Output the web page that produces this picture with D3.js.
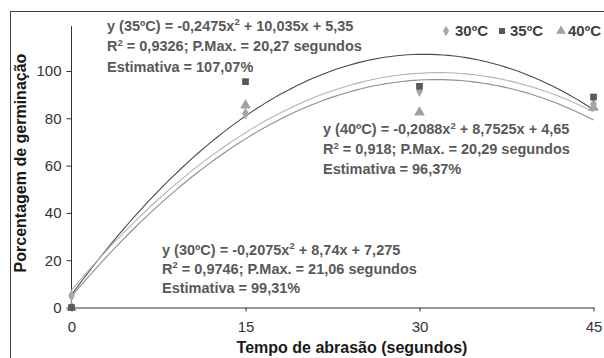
<!DOCTYPE html>
<html>
<head>
<meta charset="utf-8">
<script src="https://cdn.jsdelivr.net/npm/d3@7"></script>
<style>
  body { margin: 0; background: #fff; }
  svg { display: block; font-family: Arial, "Liberation Sans", sans-serif; }
</style>
</head>
<body>
<div id="vis"></div>
<script>
// values
const series = ["30ºC", "35ºC", "40ºC"];
const times = [0, 15, 30, 45];
const germ30 = [5, 82, 91.5, 86];
const germ35 = [0, 95.5, 93.5, 89];
const germ40 = [0, 85.5, 82.5, 84.5];
// trend line coefficients (y = a x^2 + b x + c), x fitted on 0..30
const coefA = [-0.2075, -0.2475, -0.2088];
const coefB = [8.74, 10.035, 8.7525];
const coefC = [7.275, 5.35, 4.65];
const yTicks = [0, 20, 40, 60, 80, 100];
const notes = [
  ["y (30ºC) = -0,2075x", "2", " + 8,74x + 7,275", "R", "2", " = 0,9746; P.Max. = 21,06 segundos", "Estimativa = 99,31%"],
  ["y (35ºC) = -0,2475x", "2", " + 10,035x + 5,35", "R", "2", " = 0,9326; P.Max. = 20,27 segundos", "Estimativa = 107,07%"],
  ["y (40ºC) = -0,2088x", "2", " + 8,7525x + 4,65", "R", "2", " = 0,918; P.Max. = 20,29 segundos", "Estimativa = 96,37%"]
];

const width = 604, height = 358;
const svg = d3.select("#vis").append("svg")
  .attr("width", width).attr("height", height);

// frame
svg.append("rect")
  .attr("x", 10.5).attr("y", 11.5)
  .attr("width", 700).attr("height", 400)
  .attr("fill", "none").attr("stroke", "#404040").attr("stroke-width", 1);

const x = d3.scaleLinear().domain([0, 45]).range([71.5, 593.5]);
const y = d3.scaleLinear().domain([0, 100]).range([307.5, 71]);

const lineCol = ["#b3b3b3", "#4a4a4a", "#8f8f8f"];
const markCol = ["#a6a6a6", "#595959", "#a0a0a0"];
const values = [germ30, germ35, germ40];

// axes
const yAxis = svg.append("g")
  .attr("transform", "translate(" + x(0) + ",0)")
  .call(d3.axisLeft(y).tickValues(yTicks).tickSize(5).tickPadding(5));
yAxis.select(".domain").attr("d", "M0," + y(0) + "V" + y(119));
const xAxis = svg.append("g")
  .attr("transform", "translate(0," + y(0) + ")")
  .call(d3.axisBottom(x).tickValues(times).tickSizeInner(4).tickSizeOuter(0).tickPadding(10));
[yAxis, xAxis].forEach(function(g){
  g.select(".domain").attr("stroke", "#333");
  g.selectAll(".tick line").attr("stroke", "#333");
  g.selectAll(".tick text").attr("fill", "#333")
    .attr("font-size", 15).attr("font-family", "Arial, 'Liberation Sans', sans-serif");
});

// trend lines
const us = d3.range(0, 45.01, 0.5);
const line = d3.line().x(function(d){ return x(d[0]); }).y(function(d){ return y(d[1]); });
[1, 0, 2].forEach(function(i){
  const pts = us.map(function(u){
    const t = u * 30 / 45;
    return [u, coefA[i] * t * t + coefB[i] * t + coefC[i]];
  });
  svg.append("path").datum(pts)
    .attr("d", line)
    .attr("fill", "none")
    .attr("stroke", lineCol[i])
    .attr("stroke-width", 1.1);
});

// markers
const shapes = [d3.symbolDiamond, d3.symbolSquare, d3.symbolTriangle];
const sizes = [40, 45, 50];
[2, 0, 1].forEach(function(i){
  svg.append("g").selectAll("path")
    .data(times.map(function(t, k){ return [t, values[i][k]]; }))
    .enter().append("path")
    .attr("d", d3.symbol().type(shapes[i]).size(sizes[i]))
    .attr("transform", function(d){ return "translate(" + x(d[0]) + "," + y(d[1]) + ")"; })
    .attr("fill", markCol[i]);
});

// legend
const legMark = [446, 502, 561];
const legText = [455, 510, 568];
series.forEach(function(s, i){
  svg.append("path")
    .attr("d", d3.symbol().type(shapes[i]).size(sizes[i] * 0.8))
    .attr("transform", "translate(" + legMark[i] + ",31)")
    .attr("fill", markCol[i]);
  svg.append("text")
    .attr("x", legText[i]).attr("y", 36)
    .attr("font-size", 15).attr("font-weight", "bold")
    .attr("fill", "#404040")
    .text(s);
});

// equation notes
const notePos = [[162, 254.5, 19], [107, 30.5, 20.5], [323, 134, 20]];
notes.forEach(function(n, i){
  const g = svg.append("g")
    .attr("font-size", 14.5).attr("font-weight", "bold").attr("fill", "#595959");
  const px = notePos[i][0], py = notePos[i][1], dy = notePos[i][2];
  const t1 = g.append("text").attr("x", px).attr("y", py);
  t1.append("tspan").text(n[0]);
  t1.append("tspan").attr("font-size", 9.5).attr("dy", -5.5).text(n[1]);
  t1.append("tspan").attr("dy", 5.5).text(n[2]);
  const t2 = g.append("text").attr("x", px).attr("y", py + dy);
  t2.append("tspan").text(n[3]);
  t2.append("tspan").attr("font-size", 9.5).attr("dy", -5.5).text(n[4]);
  t2.append("tspan").attr("dy", 5.5).text(n[5]);
  g.append("text").attr("x", px).attr("y", py + 2 * dy).text(n[6]);
});

// axis titles
svg.append("text")
  .attr("x", 352).attr("y", 353)
  .attr("text-anchor", "middle")
  .attr("font-size", 16).attr("font-weight", "bold").attr("fill", "#1a1a1a")
  .text("Tempo de abrasão (segundos)");
svg.append("text")
  .attr("transform", "translate(25.5,163) rotate(-90)")
  .attr("text-anchor", "middle")
  .attr("font-size", 16).attr("font-weight", "bold").attr("fill", "#1a1a1a")
  .text("Porcentagem de germinação");
</script>
</body>
</html>
